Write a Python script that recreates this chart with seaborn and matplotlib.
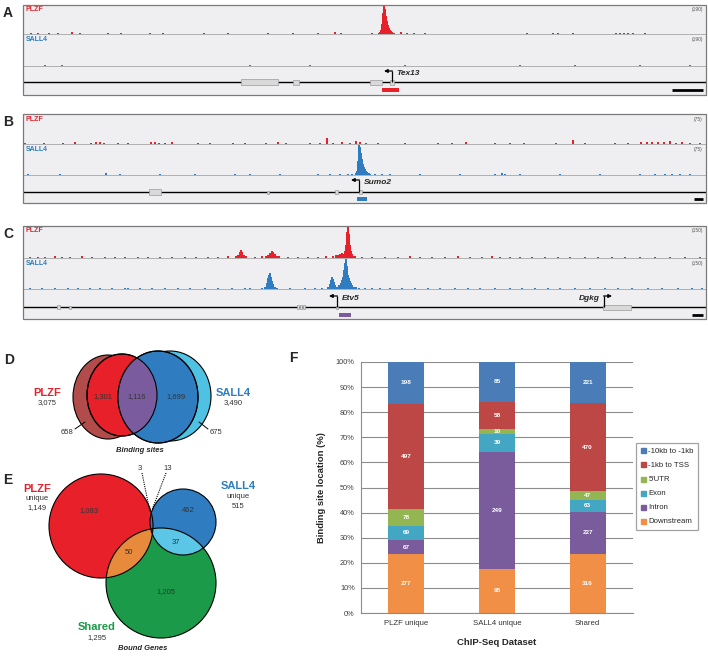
import numpy as np
import pandas as pd
import matplotlib
matplotlib.use("Agg")
import matplotlib.pyplot as plt
import seaborn as sns
from matplotlib.patches import Rectangle, Ellipse, Circle
from matplotlib.lines import Line2D

sns.set_theme(style="white")
plt.rcParams['font.family'] = ['Liberation Sans', 'DejaVu Sans']

# ---------------- data ----------------
# ChIP-seq tracks: (position along the browser window, read height)
A_PLZF = [(31, 6), (38, 8), (44, 5), (49, 7), (58, 6), (72, 14), (80, 6), (95, 5), (108, 7), (121, 6),
          (136, 5), (150, 8), (163, 6), (178, 5), (204, 9), (228, 6), (245, 5), (268, 7), (293, 10),
          (318, 6), (335, 12), (341, 7), (359, 5), (372, 6),
          (378, 3), (379, 6), (380, 12), (381, 30), (382, 70), (383, 140), (384, 190), (385, 165),
          (386, 120), (387, 85), (388, 60), (389, 42), (390, 30), (391, 22), (392, 15), (393, 10),
          (394, 7), (395, 5), (396, 3),
          (401, 12), (407, 9), (414, 7), (425, 6), (456, 5), (500, 5), (527, 6), (553, 8), (558, 10),
          (573, 7), (616, 6), (620, 9), (624, 8), (628, 7), (633, 6), (637, 5), (645, 6), (660, 5), (690, 4)]
A_SALL4 = [(45, 3), (62, 3), (250, 2), (310, 3), (405, 3), (520, 2), (575, 3), (640, 2), (690, 3)]

B_PLZF = [(25, 3), (33, 2), (44, 4), (52, 2), (63, 3), (75, 5), (82, 2), (91, 4), (96, 6), (100, 5),
          (104, 3), (111, 2), (118, 4), (128, 3), (140, 2), (151, 5), (155, 7), (159, 4), (165, 3),
          (172, 5), (185, 2), (198, 3), (210, 4), (222, 2), (233, 3), (245, 4), (254, 2), (266, 3),
          (278, 5), (286, 3), (298, 2), (310, 3), (320, 4), (327, 15), (333, 3), (342, 5), (350, 3),
          (356, 8), (360, 6), (366, 4), (378, 3), (392, 2), (405, 3), (420, 2), (438, 4), (452, 3),
          (466, 5), (480, 2), (495, 3), (510, 4), (524, 3), (540, 2), (556, 3), (573, 12), (585, 3),
          (600, 2), (615, 4), (628, 3), (641, 5), (647, 6), (652, 7), (658, 5), (664, 6), (670, 8),
          (676, 4), (682, 5), (690, 3), (700, 4)]
B_SALL4 = [(28, 2), (40, 1), (60, 2), (80, 1), (106, 6), (120, 2), (140, 1), (160, 2), (175, 1),
           (195, 2), (215, 1), (235, 2), (250, 2), (262, 1), (280, 2), (300, 1), (318, 2), (330, 2),
           (340, 3), (348, 2), (352, 3),
           (356, 4), (357, 10), (358, 35), (359, 75), (360, 70), (361, 55), (362, 40), (363, 28),
           (364, 20), (365, 14), (366, 10), (367, 8), (368, 6), (369, 4), (370, 3),
           (375, 3), (382, 2), (390, 2), (405, 1), (420, 2), (440, 1), (460, 2), (480, 1), (495, 2),
           (502, 5), (505, 3), (520, 2), (540, 1), (560, 2), (580, 1), (600, 2), (620, 1), (640, 2),
           (655, 3), (665, 2), (672, 3), (680, 2), (690, 2), (700, 1)]

C_PLZF = [(30, 3), (38, 5), (45, 4), (55, 8), (62, 5), (70, 4), (82, 6), (92, 4), (105, 3), (115, 5),
          (125, 4), (138, 3), (148, 5), (160, 4), (172, 3), (185, 4), (196, 3), (208, 5), (218, 4),
          (228, 6),
          (236, 8), (238, 15), (240, 28), (241, 35), (242, 25), (244, 14), (246, 8),
          (255, 5), (262, 6),
          (266, 8), (268, 14), (270, 22), (272, 30), (273, 26), (275, 18), (277, 10), (279, 6),
          (288, 4), (298, 5), (308, 4), (318, 5), (326, 6), (333, 10), (336, 14), (338, 12), (340, 16),
          (342, 20), (344, 18),
          (345, 30), (346, 60), (347, 120), (348, 150), (349, 110), (350, 60), (351, 30), (352, 18),
          (353, 10), (355, 6),
          (362, 5), (372, 4), (385, 5), (398, 4), (410, 6), (420, 4), (432, 5), (445, 4), (458, 6),
          (470, 5), (482, 4), (492, 6), (500, 5), (510, 4), (520, 5), (532, 4), (545, 5), (558, 4),
          (570, 3), (585, 4), (598, 3), (612, 4), (625, 3), (640, 4), (655, 3), (670, 4), (685, 3), (700, 4)]
C_SALL4 = [(30, 3), (42, 4), (55, 3), (68, 5), (78, 4), (90, 5), (100, 3), (112, 4), (125, 6), (128, 5),
           (140, 4), (152, 3), (165, 4), (178, 3), (190, 4), (205, 3), (218, 4), (232, 5), (245, 6),
           (250, 4),
           (262, 5), (265, 12), (267, 30), (268, 55), (269, 70), (270, 77), (271, 60), (272, 40),
           (273, 25), (275, 12), (277, 6),
           (290, 4), (305, 3), (315, 5), (322, 6), (328, 10), (330, 25), (331, 45), (332, 58), (333, 50),
           (334, 35), (335, 20), (337, 12), (339, 18), (341, 30), (342, 45), (343, 60), (344, 95),
           (345, 130), (346, 150), (347, 115), (348, 70), (349, 55), (350, 40), (351, 30), (352, 20),
           (354, 12), (356, 8), (359, 5),
           (365, 6), (372, 4), (380, 5), (390, 4), (402, 3), (415, 5), (428, 4), (440, 3), (455, 5),
           (468, 4), (480, 5), (495, 3), (510, 4), (522, 3), (535, 4), (548, 3), (560, 4), (575, 5),
           (590, 4), (605, 3), (618, 4), (632, 5), (648, 3), (662, 4), (678, 3), (692, 4), (702, 3)]

TRACK_MAX = {"A": 190, "B": 75, "C": 150}

# gene models (exon start, end, thickness)
A_EXONS = [(241, 278, 6), (293, 299, 5), (370, 382, 5), (390, 394, 5)]
B_EXONS = [(149, 161, 6), (267, 269, 3), (335, 338, 4), (359, 362, 4)]
C_EXONS = [(57, 60, 4), (69, 71, 3), (297, 299, 4), (300, 302, 4), (303, 305, 4), (336, 338, 3), (603, 631, 5)]

# Venn D: binding sites
D_PLZF_TOTAL, D_SALL4_TOTAL = 3075, 3490
D_REGIONS = [658, 1301, 1116, 1699, 675]
# Venn E: bound genes
E_TOTALS = {"PLZF": 1149, "SALL4": 515, "Shared": 1295}
E_PLZF_ONLY, E_SALL4_ONLY, E_SHARED_ONLY = 1083, 462, 1205
E_PLZF_SHARED, E_SALL4_SHARED, E_TRIPLE, E_PLZF_SALL4 = 50, 37, 3, 13

# F: binding site location
DATASETS = ["PLZF unique", "SALL4 unique", "Shared"]
LOCATIONS = ["-10kb to -1kb", "-1kb to TSS", "5'UTR", "Exon", "Intron", "Downstream"]
PLZF_UNIQUE_SITES = [198, 497, 78, 69, 67, 277]
SALL4_UNIQUE_SITES = [85, 58, 10, 39, 249, 95]
SHARED_SITES = [221, 470, 47, 63, 227, 316]
LOC_COLORS = ["#4a7cb8", "#bc4744", "#93b653", "#43a6c2", "#7a5c9c", "#f08f45"]

RED = "#e8202a"
BLUE = "#2f7dc0"

# ---------------- layout ----------------
W, H = 708, 657
fig = plt.figure(figsize=(W / 100, H / 100), dpi=100)


def px_rect(x0, y0, x1, y1):
    return [x0 / W, 1 - y1 / H, (x1 - x0) / W, (y1 - y0) / H]


bg = fig.add_axes([0, 0, 1, 1])
bg.set_xlim(0, W); bg.set_ylim(H, 0); bg.axis("off")

X0, X1 = 22.7, 706
PANELS = {
    "A": dict(top=4.7, mid1=34.3, mid2=65.7, bot=94.5, gene=82, mark=90, bar_color=RED),
    "B": dict(top=114.3, mid1=144.3, mid2=175, bot=203.5, gene=192, mark=199, bar_color=BLUE),
    "C": dict(top=225.5, mid1=257.7, mid2=289, bot=318.5, gene=307, mark=314.5, bar_color="#7a5c9e"),
}
TRACKS = {"A": (A_PLZF, A_SALL4), "B": (B_PLZF, B_SALL4), "C": (C_PLZF, C_SALL4)}


def draw_signal(y_top, y_bot, pairs, vmax, color):
    ax = fig.add_axes(px_rect(X0, y_top, X1, y_bot))
    ax.set_facecolor("none")
    ax.set_axis_off()
    ax.set_xlim(X0, X1)
    ax.set_ylim(0, vmax)
    xs, hs = zip(*pairs)
    ax.bar(xs, hs, width=1.1, color=color, linewidth=0)


for key, p in PANELS.items():
    bg.add_patch(Rectangle((X0, p["top"]), X1 - X0, p["bot"] - p["top"], facecolor="#efeff1", edgecolor="none"))
    plzf, sall4 = TRACKS[key]
    draw_signal(p["top"] + 0.5, p["mid1"], plzf, TRACK_MAX[key], RED)
    draw_signal(p["mid1"] + 1, p["mid2"], sall4, TRACK_MAX[key], BLUE)

# bar chart F
axF = fig.add_axes(px_rect(361, 362, 633, 613))

ov = fig.add_axes([0, 0, 1, 1])
ov.set_facecolor("none")
ov.set_xlim(0, W); ov.set_ylim(H, 0); ov.axis("off")

# ---------------- browser annotations ----------------
EXONS = {"A": A_EXONS, "B": B_EXONS, "C": C_EXONS}
for key, p in PANELS.items():
    for yy in (p["mid1"], p["mid2"]):
        ov.plot([X0, X1], [yy, yy], color="#a5a5a5", lw=0.6)
    ov.plot([X0, X1], [p["gene"], p["gene"]], color="black", lw=1.0, solid_capstyle="butt")
    for s, e, t in EXONS[key]:
        ov.add_patch(Rectangle((s, p["gene"] - t / 2), e - s, t, facecolor="#d9d9d9",
                               edgecolor="#9a9a9a", lw=0.5, zorder=3))
    ov.add_patch(Rectangle((X0, p["top"]), X1 - X0, p["bot"] - p["top"], facecolor="none",
                           edgecolor="#7a7a7a", lw=0.9, zorder=5))
    ov.text(26, p["top"] + 5, "PLZF", color=RED, fontsize=5, fontweight="bold", va="center")
    ov.text(26, p["mid1"] + 5.5, "SALL4", color=BLUE, fontsize=5, fontweight="bold", va="center")
    scale = f"({TRACK_MAX[key]})"
    ov.text(703, p["top"] + 5, scale, color="#555555", fontsize=3.5, va="center", ha="right")
    ov.text(703, p["mid1"] + 5.5, scale, color="#555555", fontsize=3.5, va="center", ha="right")
    ov.text(8, p["top"] + 8, key, fontsize=10, fontweight="bold", ha="center", va="center")


def tss(x, y_line, y_top, direction, name):
    ov.plot([x, x], [y_line, y_top], color="black", lw=0.9, solid_capstyle="butt", zorder=4)
    dx = 8 * direction
    ov.annotate("", xy=(x + dx, y_top), xytext=(x - 0.4 * direction, y_top),
                arrowprops=dict(arrowstyle="-|>", color="black", lw=0.9, mutation_scale=5,
                                shrinkA=0, shrinkB=0), zorder=4)
    if direction < 0:
        ov.text(x + 4.5, y_top + 2.5, name, fontsize=6, fontweight="bold", style="italic", va="center")
    else:
        ov.text(x - 4, y_top + 2.5, name, fontsize=6, fontweight="bold", style="italic", va="center", ha="right")


tss(392, 82, 71, -1, "Tex13")
tss(359, 192, 180, -1, "Sumo2")
tss(337, 307, 296, -1, "Etv5")
tss(604, 307, 296, 1, "Dgkg")

PEAK_MARKS = {"A": (382, 399), "B": (357, 367), "C": (339, 351)}
SCALE_BARS = {"A": (672, 703), "B": (694, 703), "C": (692, 703)}
for key, p in PANELS.items():
    s, e = PEAK_MARKS[key]
    ov.add_patch(Rectangle((s, p["mark"] - 2), e - s, 4, facecolor=p["bar_color"], edgecolor="none"))
    s, e = SCALE_BARS[key]
    ov.plot([s, e], [p["mark"], p["mark"]], color="black", lw=2, solid_capstyle="butt")

# ---------------- Venn D ----------------
DRED, LBLUE, PURPLE = "#b24c4a", "#4fc1e2", "#7a5c9e"


def ell(cx, cy, w, h, **kw):
    return Ellipse((cx, cy), w, h, transform=ov.transData, **kw)


ov.add_patch(ell(108, 397, 70, 84, facecolor=DRED, edgecolor="black", lw=0.8))
ov.add_patch(ell(170, 396, 82, 90, facecolor=LBLUE, edgecolor="black", lw=0.8))
ov.add_patch(ell(122, 395, 70, 82, facecolor=RED, edgecolor="black", lw=0.8))
ov.add_patch(ell(158, 397, 80, 92, facecolor=BLUE, edgecolor="black", lw=0.8))
pur = ell(122, 395, 70, 82, facecolor=PURPLE, edgecolor="none")
pur.set_clip_path(ell(158, 397, 80, 92))
ov.add_patch(pur)
ov.add_patch(ell(122, 395, 70, 82, fill=False, edgecolor="black", lw=0.8))
ov.add_patch(ell(158, 397, 80, 92, fill=False, edgecolor="black", lw=0.8))

num_kw = dict(fontsize=5.5, color="#333333", ha="center", va="center")
ov.text(103, 397, f"{D_REGIONS[1]:,}", **num_kw)
ov.text(137, 397, f"{D_REGIONS[2]:,}", **num_kw)
ov.text(176, 397, f"{D_REGIONS[3]:,}", **num_kw)
ov.text(67, 432, f"{D_REGIONS[0]:,}", **num_kw)
ov.text(216, 432, f"{D_REGIONS[4]:,}", **num_kw)
ov.plot([75, 85], [429, 422], color="black", lw=0.7)
ov.plot([208, 199], [429, 422], color="black", lw=0.7)
ov.text(47, 393, "PLZF", fontsize=8, fontweight="bold", color=RED, ha="center", va="center")
ov.text(47, 403, f"{D_PLZF_TOTAL:,}", **num_kw)
ov.text(233, 393, "SALL4", fontsize=8, fontweight="bold", color=BLUE, ha="center", va="center")
ov.text(233, 403, f"{D_SALL4_TOTAL:,}", **num_kw)
ov.text(140, 451, "Binding sites", fontsize=5.5, fontweight="bold", style="italic", ha="center", va="center")
ov.text(9, 360, "D", fontsize=10, fontweight="bold", ha="center", va="center")

# ---------------- Venn E ----------------
GREEN, ORANGE, LBLUE2 = "#1b9a4a", "#e88a3c", "#5cc6e6"
c_red = dict(xy=(101, 526), radius=52)
c_blue = dict(xy=(183, 522), radius=33)
c_green = dict(xy=(161, 583), radius=55)


def circ(c, **kw):
    return Circle(c["xy"], c["radius"], transform=ov.transData, **kw)


ov.add_patch(circ(c_red, facecolor=RED, edgecolor="none"))
ov.add_patch(circ(c_blue, facecolor=BLUE, edgecolor="none"))
ov.add_patch(circ(c_green, facecolor=GREEN, edgecolor="none"))
for base, clip, col in [(c_green, c_red, ORANGE), (c_green, c_blue, LBLUE2), (c_red, c_blue, PURPLE)]:
    patch = circ(base, facecolor=col, edgecolor="none")
    patch.set_clip_path(circ(clip))
    ov.add_patch(patch)
for c in (c_red, c_blue, c_green):
    ov.add_patch(circ(c, fill=False, edgecolor="black", lw=0.8))

ov.text(89, 511, f"{E_PLZF_ONLY:,}", **num_kw)
ov.text(188, 511, f"{E_SALL4_ONLY:,}", **num_kw)
ov.text(166, 592, f"{E_SHARED_ONLY:,}", **num_kw)
ov.text(129, 553, f"{E_PLZF_SHARED:,}", **num_kw)
ov.text(176, 542, f"{E_SALL4_SHARED:,}", **num_kw)
ov.text(140, 469, f"{E_TRIPLE}", **num_kw)
ov.text(168, 469, f"{E_PLZF_SALL4}", **num_kw)
ov.plot([142, 150], [473, 512], color="black", lw=0.8, ls=(0, (1, 1)))
ov.plot([166, 152], [473, 510], color="black", lw=0.8, ls=(0, (1, 1)))
ov.text(37, 489, "PLZF", fontsize=8, fontweight="bold", color=RED, ha="center", va="center")
ov.text(37, 499, "unique", **num_kw)
ov.text(37, 508, f"{E_TOTALS['PLZF']:,}", **num_kw)
ov.text(238, 486, "SALL4", fontsize=8, fontweight="bold", color=BLUE, ha="center", va="center")
ov.text(238, 497, "unique", **num_kw)
ov.text(238, 506, f"{E_TOTALS['SALL4']:,}", **num_kw)
ov.text(97, 627, "Shared", fontsize=8, fontweight="bold", color=GREEN, ha="center", va="center")
ov.text(97, 638, f"{E_TOTALS['Shared']:,}", **num_kw)
ov.text(143, 648, "Bound Genes", fontsize=5.5, fontweight="bold", style="italic", ha="center", va="center")
ov.text(8, 480, "E", fontsize=10, fontweight="bold", ha="center", va="center")

# ---------------- F stacked bars ----------------
counts = pd.DataFrame([PLZF_UNIQUE_SITES, SALL4_UNIQUE_SITES, SHARED_SITES],
                      index=DATASETS, columns=LOCATIONS)
frac = counts.div(counts.sum(axis=1), axis=0)
# cumulative from the bottom (Downstream) up
cum = frac[LOCATIONS[::-1]].cumsum(axis=1)

for k, loc in enumerate(LOCATIONS):
    sns.barplot(x=DATASETS, y=cum[loc].values, color=LOC_COLORS[k], width=0.4, saturation=1,
                errorbar=None, linewidth=0, ax=axF, zorder=2)

for i, ds in enumerate(DATASETS):
    for loc in LOCATIONS:
        top = cum.loc[ds, loc]
        mid = top - frac.loc[ds, loc] / 2
        axF.text(i, mid, str(counts.loc[ds, loc]), color="white", fontsize=4.6, fontweight="bold",
                 ha="center", va="center", zorder=3)

axF.set_xlim(-0.5, 2.5)
axF.set_ylim(0, 1)
axF.set_yticks(np.linspace(0, 1, 11))
axF.set_yticklabels([f"{int(round(v * 100))}%" for v in np.linspace(0, 1, 11)])
axF.set_xticks(range(3))
axF.set_xticklabels(DATASETS)
axF.set_xticks([-0.5, 0.5, 1.5, 2.5], minor=True)
axF.tick_params(axis="x", which="major", length=0, labelsize=5.6, pad=5, labelcolor="#333333")
axF.tick_params(axis="x", which="minor", length=3, width=0.8, color="#8c8c8c", direction="out")
axF.tick_params(axis="y", length=2.5, width=0.8, color="#8c8c8c", direction="out", labelsize=5.3,
                labelcolor="#404040", pad=2)
axF.yaxis.grid(True, color="#8c8c8c", lw=0.8)
axF.set_axisbelow(True)
for side in ("top", "right"):
    axF.spines[side].set_visible(False)
for side in ("left", "bottom"):
    axF.spines[side].set_color("#8c8c8c")
    axF.spines[side].set_linewidth(0.8)
axF.set_facecolor("none")
axF.set_xlabel("ChIP-Seq Dataset", fontsize=6.8, fontweight="bold")
axF.set_ylabel("Binding site location (%)", fontsize=6.8, fontweight="bold")
axF.xaxis.set_label_coords(0.5, -0.098)
axF.yaxis.set_label_coords(-0.127, 0.5)

handles = [Line2D([], [], marker="s", ls="none", markersize=3.6, color=c) for c in LOC_COLORS]
leg = fig.legend(handles, LOCATIONS, loc="upper left", bbox_to_anchor=(636 / W, 1 - 443 / H),
                 borderaxespad=0, fontsize=5.6, frameon=True, fancybox=False, handlelength=0.7,
                 handletextpad=0.3, labelspacing=0.85, borderpad=0.6)
leg.get_frame().set_edgecolor("#8c8c8c")
leg.get_frame().set_linewidth(0.9)
ov.text(293, 358, "F", fontsize=10, fontweight="bold", ha="center", va="center")

fig.savefig("out.png", dpi=100)
